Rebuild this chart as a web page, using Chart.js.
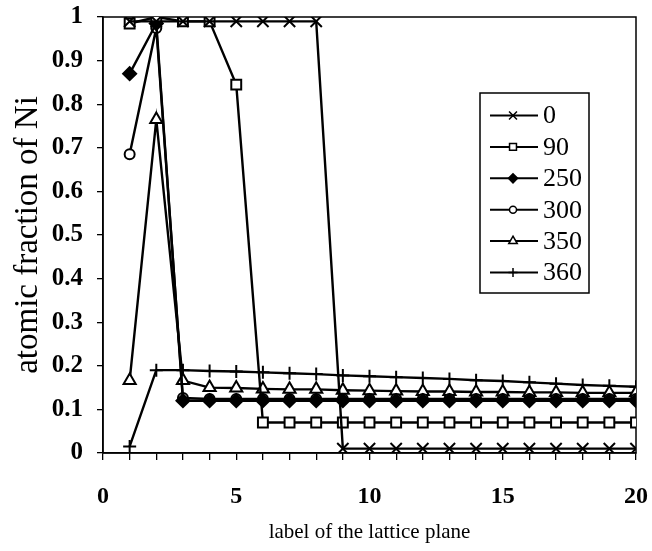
<!DOCTYPE html>
<html>
<head>
<meta charset="utf-8">
<style>
  html, body { margin: 0; padding: 0; background: #fff; }
  #wrap { width: 652px; height: 551px; }
</style>
<script src="https://cdn.jsdelivr.net/npm/chart.js@4.4.1/dist/chart.umd.min.js"></script>
</head>
<body>
<div id="wrap"><canvas id="c" width="652" height="551"></canvas></div>
<script>
// Lattice plane index along the x axis
const planes = [1, 2, 3, 4, 5, 6, 7, 8, 9, 10, 11, 12, 13, 14, 15, 16, 17, 18, 19, 20];

// Series names shown in the legend
const seriesNames = ['0', '90', '250', '300', '350', '360'];

// Atomic fraction of Ni on each plane, one array per series
const ni0   = [0.99, 0.99, 0.99, 0.99, 0.99, 0.99, 0.99, 0.99, 0.01, 0.01, 0.01, 0.01, 0.01, 0.01, 0.01, 0.01, 0.01, 0.01, 0.01, 0.01];
const ni90  = [0.985, 1.0, 0.99, 0.99, 0.845, 0.07, 0.07, 0.07, 0.07, 0.07, 0.07, 0.07, 0.07, 0.07, 0.07, 0.07, 0.07, 0.07, 0.07, 0.07];
const ni250 = [0.87, 0.985, 0.12, 0.12, 0.12, 0.12, 0.12, 0.12, 0.12, 0.12, 0.12, 0.12, 0.12, 0.12, 0.12, 0.12, 0.12, 0.12, 0.12, 0.12];
const ni300 = [0.685, 0.975, 0.126, 0.124, 0.124, 0.124, 0.124, 0.124, 0.124, 0.124, 0.124, 0.124, 0.124, 0.124, 0.124, 0.124, 0.124, 0.124, 0.124, 0.124];
const ni350 = [0.166, 0.765, 0.166, 0.15, 0.149, 0.147, 0.146, 0.146, 0.144, 0.143, 0.142, 0.141, 0.141, 0.14, 0.14, 0.139, 0.139, 0.138, 0.138, 0.138];
const ni360 = [0.015, 0.19, 0.19, 0.188, 0.187, 0.185, 0.183, 0.181, 0.178, 0.176, 0.174, 0.172, 0.17, 0.167, 0.165, 0.162, 0.159, 0.156, 0.154, 0.152];

// Y tick step and x label step
const yStep = 0.1;
const xLabelEvery = 5;

const SERIF = "'Liberation Serif', 'Times New Roman', serif";

// Marker look per series
const markerStyles = [
  { style: 'crossRot', radius: 8,   fill: '#fff' },
  { style: 'rect',     radius: 7,   fill: '#fff' },
  { style: 'rectRot',  radius: 6.5, fill: '#000' },
  { style: 'circle',   radius: 5,   fill: '#fff' },
  { style: 'triangle', radius: 7,   fill: '#fff' },
  { style: 'cross',    radius: 6.5, fill: '#fff' }
];
const seriesValues = [ni0, ni90, ni250, ni300, ni350, ni360];

const datasets = seriesValues.map((vals, i) => ({
  label: seriesNames[i],
  data: planes.map((p, k) => ({ x: p, y: vals[k] })),
  borderColor: '#000',
  borderWidth: 2.4,
  backgroundColor: markerStyles[i].fill,
  pointStyle: markerStyles[i].style,
  pointRadius: markerStyles[i].radius,
  pointBorderColor: '#000',
  pointBackgroundColor: markerStyles[i].fill,
  pointBorderWidth: 2,
  tension: 0,
  fill: false
}));

// Box around the plotting area
const frame = {
  id: 'frame',
  beforeDatasetsDraw(chart) {
    const a = chart.chartArea, ctx = chart.ctx;
    ctx.save();
    ctx.strokeStyle = '#000';
    ctx.lineWidth = 1.5;
    ctx.strokeRect(a.left, a.top, a.right - a.left, a.bottom - a.top);
    ctx.restore();
  }
};

// Boxed legend inside the plot, upper right
const boxedLegend = {
  id: 'boxedLegend',
  afterDraw(chart) {
    const a = chart.chartArea, ctx = chart.ctx;
    const w = 109, h = 200;
    const x0 = a.right - 47 - w, y0 = a.top + 76;
    const rowH = 31.4, firstRow = 22.5;
    ctx.save();
    ctx.fillStyle = '#fff';
    ctx.fillRect(x0, y0, w, h);
    ctx.strokeStyle = '#000';
    ctx.lineWidth = 1.5;
    ctx.strokeRect(x0, y0, w, h);
    chart.data.datasets.forEach((ds, i) => {
      const y = y0 + firstRow + i * rowH;
      ctx.strokeStyle = '#000';
      ctx.lineWidth = 2;
      ctx.beginPath();
      ctx.moveTo(x0 + 10, y);
      ctx.lineTo(x0 + 58, y);
      ctx.stroke();
      ctx.fillStyle = ds.pointBackgroundColor;
      ctx.strokeStyle = '#000';
      ctx.lineWidth = 1.5;
      Chart.helpers.drawPoint(ctx, { pointStyle: ds.pointStyle, radius: ds.pointRadius * 0.7, rotation: 0, borderWidth: 1.5 }, x0 + 33, y);
      ctx.fillStyle = '#000';
      ctx.font = '26px ' + SERIF;
      ctx.textBaseline = 'middle';
      ctx.textAlign = 'left';
      ctx.fillText(ds.label, x0 + 63, y + 1);
    });
    ctx.restore();
  }
};

new Chart(document.getElementById('c'), {
  type: 'line',
  data: { datasets },
  plugins: [frame, boxedLegend],
  options: {
    responsive: false,
    animation: false,
    devicePixelRatio: 1,
    layout: { padding: { top: 17, right: 16, left: 0, bottom: 0 } },
    plugins: { legend: { display: false }, tooltip: { enabled: false } },
    scales: {
      x: {
        type: 'linear',
        min: 0,
        max: 20,
        ticks: {
          stepSize: 1,
          autoSkip: false,
          maxRotation: 0,
          color: '#000',
          padding: 22,
          font: { family: SERIF, size: 24, weight: 'bold' },
          callback: v => (v % xLabelEvery === 0 ? String(v) : '')
        },
        grid: { drawOnChartArea: false, drawTicks: true, tickLength: 7, color: '#000', lineWidth: 1.3 },
        border: { color: '#000', width: 1.5 },
        title: {
          display: true,
          text: 'label of the lattice plane',
          color: '#000',
          font: { family: SERIF, size: 21 },
          padding: { top: 0, bottom: 6 }
        },
        afterFit(s) { s.height = 98; s.paddingLeft = 0; s.paddingRight = 0; }
      },
      y: {
        min: 0,
        max: 1,
        ticks: {
          stepSize: yStep,
          color: '#000',
          padding: 14,
          font: { family: SERIF, size: 25, weight: 'bold' },
          callback: v => String(Math.round(v * 10) / 10)
        },
        grid: { drawOnChartArea: false, drawTicks: true, tickLength: 6, color: '#000', lineWidth: 1.3 },
        border: { color: '#000', width: 1.5 },
        title: {
          display: true,
          text: 'atomic fraction of Ni',
          color: '#000',
          font: { family: SERIF, size: 33 },
          padding: { top: 9, bottom: 0 }
        },
        afterFit(s) { s.width = 103; s.paddingTop = 0; s.paddingBottom = 0; }
      }
    }
  }
});
</script>
</body>
</html>
